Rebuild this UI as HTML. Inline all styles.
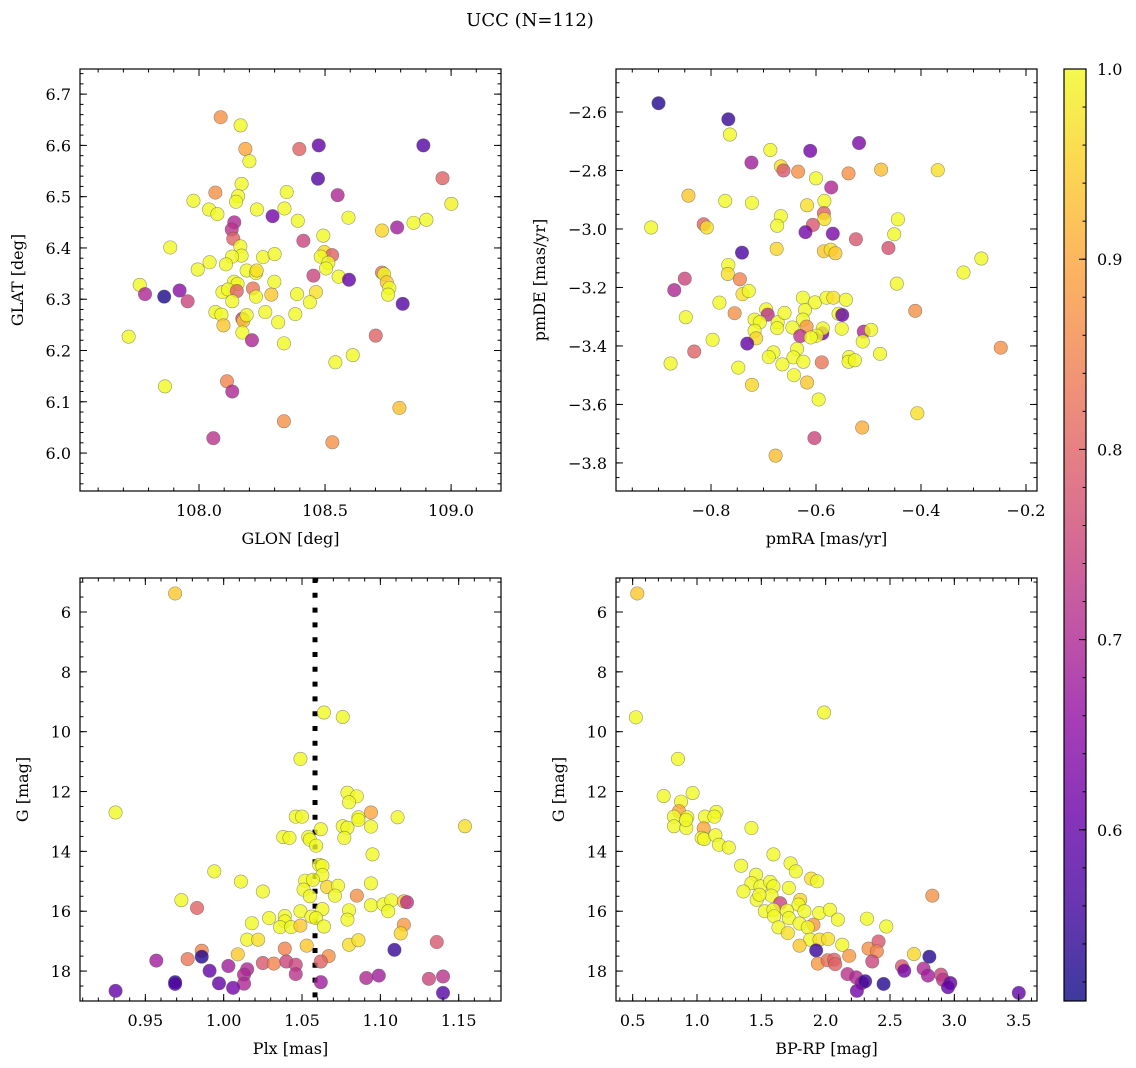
<!DOCTYPE html>
<html><head><meta charset="utf-8"><style>
html,body{margin:0;padding:0;background:#fff;}
svg{display:block;font-family:"DejaVu Serif","Liberation Serif",serif;}
</style></head><body>
<svg id="fig" width="1136" height="1068" viewBox="0 0 1136 1068" xmlns="http://www.w3.org/2000/svg">
<defs>
<linearGradient id="plasma" x1="0" y1="1" x2="0" y2="0">
<stop offset="0" stop-color="#0d0887"/><stop offset="0.1" stop-color="#41049d"/><stop offset="0.2" stop-color="#6a00a8"/><stop offset="0.3" stop-color="#8f0da4"/><stop offset="0.4" stop-color="#b12a90"/><stop offset="0.5" stop-color="#cc4778"/><stop offset="0.6" stop-color="#e16462"/><stop offset="0.7" stop-color="#f2844b"/><stop offset="0.8" stop-color="#fca636"/><stop offset="0.9" stop-color="#fcce25"/><stop offset="1" stop-color="#f0f921"/>
</linearGradient>
</defs>
<text x="530" y="26" font-size="18" text-anchor="middle">UCC (N=112)</text>
</svg>
<script>
// ---- data: [x, y, probability] ----
const posGlon = [108.086,108.165,108.184,108.200,108.398,108.475,108.890,108.472,108.966,108.169,108.065,108.348,108.550,107.978,108.155,108.147,109.001,108.040,108.073,108.230,108.339,108.292,108.392,108.593,108.140,108.851,108.902,108.786,108.726,108.130,108.136,108.493,108.414,107.886,108.164,108.169,108.131,108.254,108.300,108.042,108.107,108.497,108.528,108.483,108.513,108.504,107.995,108.189,108.226,108.229,108.454,108.554,108.595,108.726,108.734,108.745,108.755,108.750,107.765,107.786,107.862,107.923,107.955,108.139,108.153,108.093,108.115,108.150,108.132,108.214,108.226,108.299,108.287,108.389,108.464,108.440,108.808,108.065,108.089,108.097,108.172,108.176,108.189,108.172,108.263,108.314,108.382,108.210,108.337,107.721,108.701,108.610,108.541,107.865,108.111,108.132,108.795,108.337,108.529,108.057];
const posGlat = [6.655,6.639,6.593,6.569,6.593,6.600,6.600,6.535,6.536,6.525,6.508,6.509,6.503,6.492,6.501,6.490,6.486,6.475,6.466,6.475,6.477,6.462,6.453,6.459,6.450,6.449,6.455,6.440,6.434,6.436,6.418,6.424,6.414,6.401,6.403,6.385,6.383,6.382,6.388,6.372,6.368,6.392,6.386,6.383,6.371,6.360,6.358,6.356,6.351,6.356,6.346,6.344,6.338,6.352,6.349,6.333,6.322,6.309,6.328,6.310,6.305,6.317,6.296,6.334,6.330,6.314,6.319,6.316,6.296,6.321,6.305,6.334,6.309,6.310,6.314,6.294,6.291,6.275,6.270,6.249,6.262,6.258,6.269,6.235,6.275,6.255,6.271,6.220,6.214,6.227,6.229,6.191,6.177,6.130,6.140,6.120,6.088,6.062,6.021,6.029];
const posProb = [0.87,1.00,0.90,1.00,0.80,0.60,0.58,0.58,0.80,1.00,0.87,1.00,0.70,1.00,1.00,1.00,0.99,1.00,1.00,1.00,1.00,0.62,1.00,1.00,0.70,1.00,1.00,0.68,0.96,0.72,0.80,1.00,0.75,1.00,1.00,1.00,1.00,1.00,1.00,1.00,1.00,0.96,0.80,1.00,1.00,1.00,1.00,1.00,1.00,0.97,0.75,1.00,0.60,0.82,1.00,0.94,1.00,1.00,1.00,0.70,0.52,0.65,0.75,1.00,1.00,1.00,1.00,0.80,1.00,0.83,1.00,1.00,0.94,1.00,0.97,1.00,0.58,1.00,1.00,0.94,0.75,0.94,1.00,1.00,1.00,1.00,1.00,0.70,1.00,1.00,0.80,1.00,1.00,1.00,0.85,0.70,0.93,0.87,0.87,0.72];

const pmRA = [-0.900,-0.767,-0.764,-0.518,-0.611,-0.687,-0.723,-0.667,-0.662,-0.634,-0.538,-0.476,-0.368,-0.600,-0.571,-0.843,-0.773,-0.722,-0.617,-0.584,-0.585,-0.584,-0.667,-0.674,-0.444,-0.914,-0.814,-0.808,-0.606,-0.620,-0.568,-0.524,-0.451,-0.462,-0.675,-0.585,-0.572,-0.563,-0.741,-0.285,-0.319,-0.767,-0.768,-0.745,-0.850,-0.870,-0.446,-0.740,-0.728,-0.784,-0.625,-0.602,-0.580,-0.567,-0.543,-0.411,-0.755,-0.848,-0.695,-0.692,-0.717,-0.707,-0.673,-0.660,-0.621,-0.625,-0.557,-0.550,-0.618,-0.645,-0.674,-0.717,-0.714,-0.630,-0.588,-0.587,-0.599,-0.610,-0.551,-0.509,-0.495,-0.511,-0.797,-0.731,-0.832,-0.877,-0.748,-0.681,-0.690,-0.636,-0.643,-0.664,-0.624,-0.589,-0.537,-0.538,-0.526,-0.478,-0.722,-0.642,-0.617,-0.595,-0.407,-0.512,-0.603,-0.677,-0.248];
const pmDE = [-2.570,-2.625,-2.677,-2.706,-2.733,-2.730,-2.773,-2.786,-2.800,-2.804,-2.810,-2.797,-2.799,-2.827,-2.858,-2.886,-2.904,-2.911,-2.919,-2.904,-2.946,-2.966,-2.956,-2.989,-2.967,-2.995,-2.984,-2.995,-2.986,-3.011,-3.016,-3.035,-3.018,-3.065,-3.068,-3.076,-3.071,-3.083,-3.081,-3.101,-3.149,-3.123,-3.154,-3.172,-3.170,-3.209,-3.187,-3.223,-3.212,-3.252,-3.235,-3.251,-3.235,-3.235,-3.242,-3.280,-3.288,-3.302,-3.275,-3.293,-3.310,-3.319,-3.319,-3.287,-3.277,-3.310,-3.290,-3.294,-3.334,-3.337,-3.339,-3.348,-3.374,-3.366,-3.357,-3.340,-3.365,-3.371,-3.341,-3.351,-3.345,-3.385,-3.379,-3.392,-3.419,-3.460,-3.474,-3.422,-3.438,-3.410,-3.439,-3.463,-3.454,-3.456,-3.438,-3.454,-3.449,-3.427,-3.533,-3.500,-3.525,-3.583,-3.630,-3.679,-3.715,-3.775,-3.406];
const pmProb = [0.53,0.55,1.00,0.63,0.62,1.00,0.68,0.97,0.78,0.87,0.87,0.93,0.97,1.00,0.70,0.94,1.00,1.00,0.97,1.00,0.80,0.97,1.00,1.00,1.00,1.00,0.80,0.97,0.78,0.62,0.63,0.78,1.00,0.77,0.96,0.94,0.97,0.94,0.57,1.00,1.00,1.00,0.97,0.85,0.75,0.70,1.00,0.97,1.00,1.00,1.00,1.00,1.00,0.97,1.00,0.87,0.87,1.00,1.00,0.72,1.00,1.00,1.00,1.00,1.00,1.00,1.00,0.60,0.88,1.00,1.00,1.00,0.96,0.72,0.63,1.00,1.00,1.00,1.00,0.70,1.00,1.00,1.00,0.60,0.80,1.00,1.00,1.00,1.00,1.00,1.00,1.00,1.00,0.83,1.00,1.00,1.00,1.00,0.96,1.00,0.94,1.00,0.97,0.91,0.75,0.93,0.87];

const plx = [0.969,0.931,1.064,1.076,1.049,1.079,1.085,1.080,1.094,1.046,1.050,1.086,1.086,1.111,1.154,1.062,1.076,1.079,1.094,1.038,1.042,1.054,1.055,1.077,1.059,1.095,1.061,1.063,1.063,0.994,1.011,1.052,1.057,1.051,1.025,1.066,1.073,1.094,1.071,1.055,1.085,0.973,0.983,1.094,1.102,1.107,1.105,1.115,1.117,1.049,1.063,1.080,1.056,1.059,1.079,1.029,1.039,1.039,1.018,1.036,1.043,1.049,1.064,1.115,1.113,1.015,1.022,1.080,1.086,1.053,1.009,1.136,1.109,0.986,0.986,0.957,0.977,1.039,1.067,1.062,1.025,1.032,1.040,1.046,1.046,0.991,1.003,1.015,1.013,1.013,0.997,1.006,0.969,0.969,0.931,1.062,1.091,1.099,1.131,1.140,1.140];
const plxG = [5.38,12.70,9.36,9.51,10.91,12.04,12.16,12.36,12.70,12.84,12.84,12.86,12.95,12.86,13.16,13.26,13.16,13.21,13.17,13.52,13.55,13.52,13.61,13.55,13.81,14.10,14.45,14.49,14.79,14.67,15.01,14.98,14.95,15.28,15.34,15.19,15.15,15.07,15.48,15.50,15.48,15.63,15.89,15.80,15.77,15.64,16.00,15.67,15.70,16.00,15.93,15.97,16.18,16.23,16.28,16.23,16.16,16.34,16.40,16.53,16.53,16.48,16.51,16.45,16.74,16.95,16.95,17.12,16.97,17.15,17.44,17.03,17.29,17.32,17.52,17.65,17.60,17.25,17.50,17.68,17.73,17.75,17.68,17.79,18.10,17.99,17.83,17.94,18.12,18.42,18.41,18.56,18.37,18.43,18.66,18.37,18.23,18.15,18.26,18.18,18.73];
const plxProb = [0.94,1.00,1.00,1.00,1.00,1.00,1.00,1.00,0.90,1.00,1.00,1.00,1.00,1.00,0.97,1.00,1.00,1.00,1.00,1.00,1.00,1.00,1.00,1.00,1.00,1.00,1.00,1.00,1.00,1.00,1.00,1.00,1.00,1.00,1.00,0.96,1.00,1.00,1.00,1.00,0.87,1.00,0.80,1.00,1.00,1.00,1.00,0.94,0.72,1.00,1.00,1.00,1.00,1.00,1.00,1.00,1.00,1.00,1.00,1.00,1.00,0.94,1.00,0.88,0.96,1.00,0.97,0.97,0.97,0.94,0.94,0.78,0.55,0.85,0.53,0.68,0.83,0.85,0.87,0.80,0.78,0.85,0.75,0.75,0.72,0.60,0.68,0.70,0.70,0.70,0.60,0.62,0.53,0.58,0.60,0.68,0.70,0.68,0.75,0.72,0.58];
const plxRef = 1.0583;

const bprp = [0.536,0.525,1.988,0.852,0.741,0.966,0.876,0.860,0.821,0.925,0.821,0.917,0.915,1.062,1.151,1.135,1.052,1.036,1.055,1.143,1.171,1.247,1.423,1.343,1.594,1.727,1.768,1.459,1.423,1.361,1.493,1.568,1.594,1.579,1.464,1.485,1.646,1.714,1.802,1.789,1.887,1.934,1.527,1.594,1.698,1.835,1.949,2.033,1.599,1.714,1.797,1.905,1.861,1.633,1.706,2.095,2.321,2.471,1.879,1.952,2.019,2.129,1.797,1.926,2.183,2.333,2.411,2.398,2.362,1.939,2.015,2.066,2.074,2.686,2.829,2.806,2.170,2.237,2.282,2.307,2.243,2.450,2.593,2.611,2.761,2.795,2.896,2.912,2.969,2.951,3.501];
const cmdG = [5.38,9.52,9.36,10.91,12.15,12.05,12.34,12.66,12.84,12.86,13.16,13.22,12.95,12.84,12.68,12.84,13.23,13.55,13.59,13.46,13.78,13.87,13.22,14.48,14.10,14.40,14.67,14.78,15.06,15.34,15.17,15.02,15.17,15.48,15.62,15.45,15.73,15.22,15.62,15.78,14.91,15.00,16.00,15.95,15.98,16.00,16.06,15.95,16.17,16.23,16.41,16.45,16.54,16.54,16.73,16.28,16.25,16.51,16.95,16.95,16.93,17.12,17.15,17.31,17.49,17.25,17.01,17.34,17.68,17.75,17.64,17.62,17.77,17.43,15.48,17.52,18.10,18.21,18.40,18.34,18.66,18.43,17.84,17.99,17.92,18.15,18.12,18.29,18.40,18.54,18.73];
const cmdProb = [0.94,1.00,1.00,1.00,1.00,1.00,1.00,0.90,1.00,1.00,1.00,1.00,1.00,1.00,1.00,1.00,0.90,1.00,1.00,1.00,1.00,1.00,1.00,1.00,1.00,1.00,1.00,1.00,1.00,1.00,1.00,1.00,1.00,1.00,1.00,1.00,0.75,1.00,0.96,1.00,0.97,1.00,1.00,1.00,1.00,1.00,1.00,1.00,1.00,1.00,1.00,0.88,1.00,1.00,0.97,1.00,1.00,1.00,1.00,0.97,0.97,1.00,0.94,0.55,0.88,0.87,0.78,0.85,0.75,0.88,0.82,0.80,0.80,0.96,0.87,0.53,0.72,0.70,0.68,0.55,0.62,0.53,0.78,0.62,0.70,0.68,0.75,0.72,0.60,0.60,0.60];

const cbTicks = [0.6,0.7,0.8,0.9,1.0];

const NS='http://www.w3.org/2000/svg';
const svg=document.getElementById('fig');
function mk(tag,attrs,parent){const e=document.createElementNS(NS,tag);for(const k in attrs)e.setAttribute(k,attrs[k]);(parent||svg).appendChild(e);return e;}
const stops=[[13,8,135],[65,4,157],[106,0,168],[143,13,164],[177,42,144],[204,71,120],[225,100,98],[242,132,75],[252,166,54],[252,206,37],[240,249,33]];
const PMIN=0.51,PMAX=1.0;
function plasma(p){let t=(p-PMIN)/(PMAX-PMIN);t=Math.max(0,Math.min(1,t));const f=t*10,i=Math.min(9,Math.floor(f)),r=f-i;const a=stops[i],b=stops[i+1];return 'rgb('+[0,1,2].map(k=>Math.round(a[k]+(b[k]-a[k])*r)).join(',')+')';}
function fmt(v,d){const s=Math.abs(v).toFixed(d);return (v<-1e-9?'\u2212':'')+s;}

function panel(cfg){
  const {x0,x1,y0,y1,xd,yd,name}=cfg;
  const sx=v=>x0+(v-xd[0])/(xd[1]-xd[0])*(x1-x0);
  const sy=v=>y0+(v-yd[0])/(yd[1]-yd[0])*(y1-y0);
  const g=mk('g',{});
  
  
  const cid='clip-'+name;
  const cp=mk('clipPath',{id:cid},g);mk('rect',{x:x0,y:y0,width:x1-x0,height:y1-y0},cp);
  const pts=mk('g',{'clip-path':'url(#'+cid+')'},g);
  if(cfg.vline!==undefined){
    const l=mk('line',{x1:sx(cfg.vline),x2:sx(cfg.vline),y1:y0,y2:y1,stroke:'#000','stroke-width':5,'stroke-dasharray':'5,9.8'},pts);
    
    
  }
  for(let i=0;i<cfg.xs.length;i++){
    const c=mk('circle',{cx:sx(cfg.xs[i]),cy:sy(cfg.ys[i]),r:6.7,fill:plasma(cfg.ps[i]),'fill-opacity':0.8,stroke:'#555','stroke-opacity':0.6,'stroke-width':0.6},pts);
    
    
  }
  const fr=mk('rect',{x:x0,y:y0,width:x1-x0,height:y1-y0,fill:'none',stroke:'#000','stroke-width':1.2},g);
  
  
  function ticks(lo,hi,step,len,axis,labels,dec){
    const n0=Math.ceil((Math.min(lo,hi)-1e-9)/step),n1=Math.floor((Math.max(lo,hi)+1e-9)/step);
    for(let n=n0;n<=n1;n++){const v=n*step;
      if(axis==='x'){const X=sx(v);mk('line',{x1:X,x2:X,y1:y1,y2:y1-len,stroke:'#000','stroke-width':1},g);mk('line',{x1:X,x2:X,y1:y0,y2:y0+len,stroke:'#000','stroke-width':1},g);
        if(labels){const t=mk('text',{x:X,y:y1+25,'font-size':16,'text-anchor':'middle'},g);t.textContent=fmt(v,dec);}}
      else{const Y=sy(v);mk('line',{x1:x0,x2:x0+len,y1:Y,y2:Y,stroke:'#000','stroke-width':1},g);mk('line',{x1:x1,x2:x1-len,y1:Y,y2:Y,stroke:'#000','stroke-width':1},g);
        if(labels){const t=mk('text',{x:x0-9,y:Y+6,'font-size':16,'text-anchor':'end'},g);t.textContent=fmt(v,dec);}}
    }
  }
  ticks(xd[0],xd[1],cfg.xminor,3.5,'x',false);
  ticks(xd[0],xd[1],cfg.xmajor,7,'x',true,cfg.xdec);
  ticks(yd[0],yd[1],cfg.yminor,3.5,'y',false);
  ticks(yd[0],yd[1],cfg.ymajor,7,'y',true,cfg.ydec);
  const xl=mk('text',{x:(x0+x1)/2,y:y1+53,'font-size':16,'text-anchor':'middle'},g);xl.textContent=cfg.xlabel;
  
  
  const yx=cfg.ylx,yc=(y0+y1)/2;
  const yl=mk('text',{x:yx,y:yc,'font-size':16,'text-anchor':'middle',transform:'rotate(-90 '+yx+' '+yc+')'},g);yl.textContent=cfg.ylabel;
  
  
}

panel({name:'glon-glat-panel',x0:80,x1:501,y0:69,y1:491,xd:[107.528,109.198],yd:[6.749,5.926],xs:posGlon,ys:posGlat,ps:posProb,xmajor:0.5,xminor:0.1,xdec:1,ymajor:0.1,yminor:0.02,ydec:1,xlabel:'GLON [deg]',ylabel:'GLAT [deg]',ylx:23});
panel({name:'proper-motion-panel',x0:616,x1:1037,y0:69,y1:491,xd:[-0.981,-0.179],yd:[-2.453,-3.896],xs:pmRA,ys:pmDE,ps:pmProb,xmajor:0.2,xminor:0.05,xdec:1,ymajor:0.2,yminor:0.05,ydec:1,xlabel:'pmRA [mas/yr]',ylabel:'pmDE [mas/yr]',ylx:545});
panel({name:'parallax-panel',x0:80,x1:501,y0:578,y1:1001,xd:[0.9083,1.1770],yd:[4.864,19.0],xs:plx,ys:plxG,ps:plxProb,xmajor:0.05,xminor:0.01,xdec:2,ymajor:2,yminor:0.5,ydec:0,xlabel:'Plx [mas]',ylabel:'G [mag]',ylx:28,vline:plxRef});
panel({name:'cmd-panel',x0:616,x1:1037,y0:578,y1:1001,xd:[0.3705,3.6425],yd:[4.864,19.0],xs:bprp,ys:cmdG,ps:cmdProb,xmajor:0.5,xminor:0.1,xdec:1,ymajor:2,yminor:0.5,ydec:0,xlabel:'BP-RP [mag]',ylabel:'G [mag]',ylx:564});

const cb=mk('g',{});


const cx0=1064,cx1=1086,cy0=69,cy1=1001;
mk('rect',{x:cx0,y:cy0,width:cx1-cx0,height:cy1-cy0,fill:'url(#plasma)','fill-opacity':0.8},cb);
mk('rect',{x:cx0,y:cy0,width:cx1-cx0,height:cy1-cy0,fill:'none',stroke:'#000','stroke-width':1.2},cb);
const cy=v=>cy1-(v-PMIN)/(PMAX-PMIN)*(cy1-cy0);
for(let n=26;n<=50;n++){const v=n*0.02;if(v<PMIN-1e-9)continue;const Y=cy(v);mk('line',{x1:cx1,x2:cx1-3.5,y1:Y,y2:Y,stroke:'#000','stroke-width':1},cb);}
cbTicks.forEach(v=>{const Y=cy(v);mk('line',{x1:cx1,x2:cx1-7,y1:Y,y2:Y,stroke:'#000','stroke-width':1},cb);
  const t=mk('text',{x:1097,y:Y+6,'font-size':16},cb);t.textContent=v.toFixed(1);
  
  });
</script>
</body></html>
